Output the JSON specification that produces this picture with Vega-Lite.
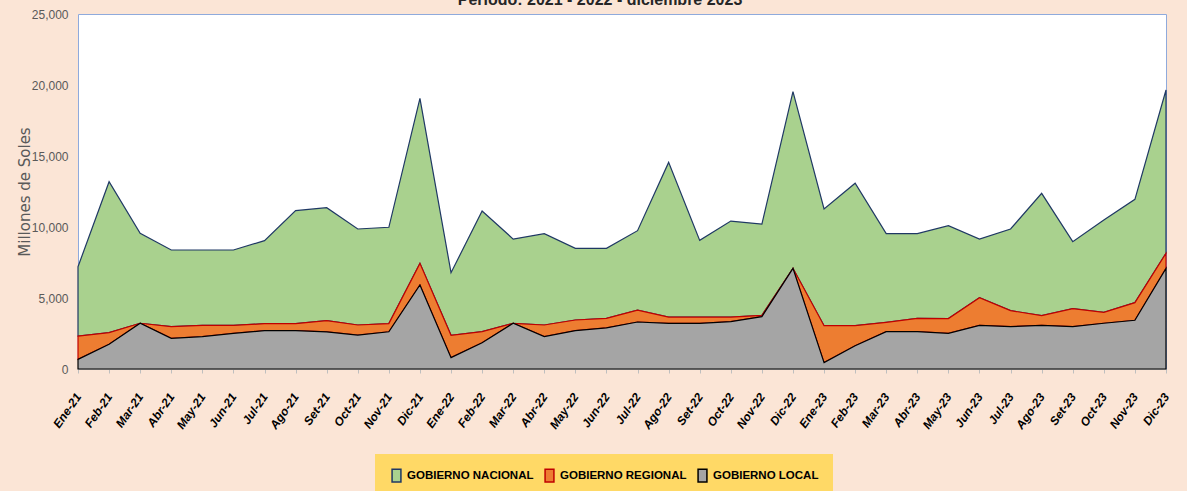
{
  "$schema": "https://vega.github.io/schema/vega-lite/v6.json",
  "width": 1088,
  "height": 355,
  "autosize": {"type": "none"},
  "padding": {"left": 78, "top": 14, "right": 21, "bottom": 122},
  "background": "#FBE5D6",
  "title": {
    "text": "Periodo: 2021 - 2022 - diciembre 2023",
    "anchor": "middle",
    "offset": 0,
    "baseline": "alphabetic",
    "dx": -22,
    "dy": 13,
    "fontSize": 16,
    "font": "Liberation Sans",
    "fontWeight": "bold",
    "color": "#262626"
  },
  "data": {
    "values": [
      {"mes": "Ene-21", "serie": "GOBIERNO NACIONAL", "orden": 3, "valor": 4880},
      {"mes": "Ene-21", "serie": "GOBIERNO REGIONAL", "orden": 2, "valor": 1640},
      {"mes": "Ene-21", "serie": "GOBIERNO LOCAL", "orden": 1, "valor": 680},
      {"mes": "Feb-21", "serie": "GOBIERNO NACIONAL", "orden": 3, "valor": 10630},
      {"mes": "Feb-21", "serie": "GOBIERNO REGIONAL", "orden": 2, "valor": 820},
      {"mes": "Feb-21", "serie": "GOBIERNO LOCAL", "orden": 1, "valor": 1740},
      {"mes": "Mar-21", "serie": "GOBIERNO NACIONAL", "orden": 3, "valor": 6330},
      {"mes": "Mar-21", "serie": "GOBIERNO REGIONAL", "orden": 2, "valor": 0},
      {"mes": "Mar-21", "serie": "GOBIERNO LOCAL", "orden": 1, "valor": 3220},
      {"mes": "Abr-21", "serie": "GOBIERNO NACIONAL", "orden": 3, "valor": 5400},
      {"mes": "Abr-21", "serie": "GOBIERNO REGIONAL", "orden": 2, "valor": 820},
      {"mes": "Abr-21", "serie": "GOBIERNO LOCAL", "orden": 1, "valor": 2160},
      {"mes": "May-21", "serie": "GOBIERNO NACIONAL", "orden": 3, "valor": 5310},
      {"mes": "May-21", "serie": "GOBIERNO REGIONAL", "orden": 2, "valor": 790},
      {"mes": "May-21", "serie": "GOBIERNO LOCAL", "orden": 1, "valor": 2280},
      {"mes": "Jun-21", "serie": "GOBIERNO NACIONAL", "orden": 3, "valor": 5310},
      {"mes": "Jun-21", "serie": "GOBIERNO REGIONAL", "orden": 2, "valor": 560},
      {"mes": "Jun-21", "serie": "GOBIERNO LOCAL", "orden": 1, "valor": 2510},
      {"mes": "Jul-21", "serie": "GOBIERNO NACIONAL", "orden": 3, "valor": 5850},
      {"mes": "Jul-21", "serie": "GOBIERNO REGIONAL", "orden": 2, "valor": 490},
      {"mes": "Jul-21", "serie": "GOBIERNO LOCAL", "orden": 1, "valor": 2700},
      {"mes": "Ago-21", "serie": "GOBIERNO NACIONAL", "orden": 3, "valor": 7960},
      {"mes": "Ago-21", "serie": "GOBIERNO REGIONAL", "orden": 2, "valor": 490},
      {"mes": "Ago-21", "serie": "GOBIERNO LOCAL", "orden": 1, "valor": 2700},
      {"mes": "Set-21", "serie": "GOBIERNO NACIONAL", "orden": 3, "valor": 7960},
      {"mes": "Set-21", "serie": "GOBIERNO REGIONAL", "orden": 2, "valor": 790},
      {"mes": "Set-21", "serie": "GOBIERNO LOCAL", "orden": 1, "valor": 2610},
      {"mes": "Oct-21", "serie": "GOBIERNO NACIONAL", "orden": 3, "valor": 6760},
      {"mes": "Oct-21", "serie": "GOBIERNO REGIONAL", "orden": 2, "valor": 710},
      {"mes": "Oct-21", "serie": "GOBIERNO LOCAL", "orden": 1, "valor": 2390},
      {"mes": "Nov-21", "serie": "GOBIERNO NACIONAL", "orden": 3, "valor": 6780},
      {"mes": "Nov-21", "serie": "GOBIERNO REGIONAL", "orden": 2, "valor": 580},
      {"mes": "Nov-21", "serie": "GOBIERNO LOCAL", "orden": 1, "valor": 2620},
      {"mes": "Dic-21", "serie": "GOBIERNO NACIONAL", "orden": 3, "valor": 11620},
      {"mes": "Dic-21", "serie": "GOBIERNO REGIONAL", "orden": 2, "valor": 1520},
      {"mes": "Dic-21", "serie": "GOBIERNO LOCAL", "orden": 1, "valor": 5920},
      {"mes": "Ene-22", "serie": "GOBIERNO NACIONAL", "orden": 3, "valor": 4410},
      {"mes": "Ene-22", "serie": "GOBIERNO REGIONAL", "orden": 2, "valor": 1570},
      {"mes": "Ene-22", "serie": "GOBIERNO LOCAL", "orden": 1, "valor": 800},
      {"mes": "Feb-22", "serie": "GOBIERNO NACIONAL", "orden": 3, "valor": 8500},
      {"mes": "Feb-22", "serie": "GOBIERNO REGIONAL", "orden": 2, "valor": 780},
      {"mes": "Feb-22", "serie": "GOBIERNO LOCAL", "orden": 1, "valor": 1850},
      {"mes": "Mar-22", "serie": "GOBIERNO NACIONAL", "orden": 3, "valor": 5930},
      {"mes": "Mar-22", "serie": "GOBIERNO REGIONAL", "orden": 2, "valor": 0},
      {"mes": "Mar-22", "serie": "GOBIERNO LOCAL", "orden": 1, "valor": 3220},
      {"mes": "Abr-22", "serie": "GOBIERNO NACIONAL", "orden": 3, "valor": 6430},
      {"mes": "Abr-22", "serie": "GOBIERNO REGIONAL", "orden": 2, "valor": 820},
      {"mes": "Abr-22", "serie": "GOBIERNO LOCAL", "orden": 1, "valor": 2280},
      {"mes": "May-22", "serie": "GOBIERNO NACIONAL", "orden": 3, "valor": 5050},
      {"mes": "May-22", "serie": "GOBIERNO REGIONAL", "orden": 2, "valor": 750},
      {"mes": "May-22", "serie": "GOBIERNO LOCAL", "orden": 1, "valor": 2700},
      {"mes": "Jun-22", "serie": "GOBIERNO NACIONAL", "orden": 3, "valor": 4930},
      {"mes": "Jun-22", "serie": "GOBIERNO REGIONAL", "orden": 2, "valor": 680},
      {"mes": "Jun-22", "serie": "GOBIERNO LOCAL", "orden": 1, "valor": 2890},
      {"mes": "Jul-22", "serie": "GOBIERNO NACIONAL", "orden": 3, "valor": 5590},
      {"mes": "Jul-22", "serie": "GOBIERNO REGIONAL", "orden": 2, "valor": 840},
      {"mes": "Jul-22", "serie": "GOBIERNO LOCAL", "orden": 1, "valor": 3310},
      {"mes": "Ago-22", "serie": "GOBIERNO NACIONAL", "orden": 3, "valor": 10890},
      {"mes": "Ago-22", "serie": "GOBIERNO REGIONAL", "orden": 2, "valor": 440},
      {"mes": "Ago-22", "serie": "GOBIERNO LOCAL", "orden": 1, "valor": 3220},
      {"mes": "Set-22", "serie": "GOBIERNO NACIONAL", "orden": 3, "valor": 5400},
      {"mes": "Set-22", "serie": "GOBIERNO REGIONAL", "orden": 2, "valor": 440},
      {"mes": "Set-22", "serie": "GOBIERNO LOCAL", "orden": 1, "valor": 3220},
      {"mes": "Oct-22", "serie": "GOBIERNO NACIONAL", "orden": 3, "valor": 6760},
      {"mes": "Oct-22", "serie": "GOBIERNO REGIONAL", "orden": 2, "valor": 330},
      {"mes": "Oct-22", "serie": "GOBIERNO LOCAL", "orden": 1, "valor": 3330},
      {"mes": "Nov-22", "serie": "GOBIERNO NACIONAL", "orden": 3, "valor": 6430},
      {"mes": "Nov-22", "serie": "GOBIERNO REGIONAL", "orden": 2, "valor": 90},
      {"mes": "Nov-22", "serie": "GOBIERNO LOCAL", "orden": 1, "valor": 3690},
      {"mes": "Dic-22", "serie": "GOBIERNO NACIONAL", "orden": 3, "valor": 12440},
      {"mes": "Dic-22", "serie": "GOBIERNO REGIONAL", "orden": 2, "valor": 0},
      {"mes": "Dic-22", "serie": "GOBIERNO LOCAL", "orden": 1, "valor": 7090},
      {"mes": "Ene-23", "serie": "GOBIERNO NACIONAL", "orden": 3, "valor": 8220},
      {"mes": "Ene-23", "serie": "GOBIERNO REGIONAL", "orden": 2, "valor": 2600},
      {"mes": "Ene-23", "serie": "GOBIERNO LOCAL", "orden": 1, "valor": 450},
      {"mes": "Feb-23", "serie": "GOBIERNO NACIONAL", "orden": 3, "valor": 10030},
      {"mes": "Feb-23", "serie": "GOBIERNO REGIONAL", "orden": 2, "valor": 1410},
      {"mes": "Feb-23", "serie": "GOBIERNO LOCAL", "orden": 1, "valor": 1640},
      {"mes": "Mar-23", "serie": "GOBIERNO NACIONAL", "orden": 3, "valor": 6240},
      {"mes": "Mar-23", "serie": "GOBIERNO REGIONAL", "orden": 2, "valor": 660},
      {"mes": "Mar-23", "serie": "GOBIERNO LOCAL", "orden": 1, "valor": 2630},
      {"mes": "Abr-23", "serie": "GOBIERNO NACIONAL", "orden": 3, "valor": 5960},
      {"mes": "Abr-23", "serie": "GOBIERNO REGIONAL", "orden": 2, "valor": 940},
      {"mes": "Abr-23", "serie": "GOBIERNO LOCAL", "orden": 1, "valor": 2630},
      {"mes": "May-23", "serie": "GOBIERNO NACIONAL", "orden": 3, "valor": 6540},
      {"mes": "May-23", "serie": "GOBIERNO REGIONAL", "orden": 2, "valor": 1040},
      {"mes": "May-23", "serie": "GOBIERNO LOCAL", "orden": 1, "valor": 2510},
      {"mes": "Jun-23", "serie": "GOBIERNO NACIONAL", "orden": 3, "valor": 4130},
      {"mes": "Jun-23", "serie": "GOBIERNO REGIONAL", "orden": 2, "valor": 1950},
      {"mes": "Jun-23", "serie": "GOBIERNO LOCAL", "orden": 1, "valor": 3070},
      {"mes": "Jul-23", "serie": "GOBIERNO NACIONAL", "orden": 3, "valor": 5750},
      {"mes": "Jul-23", "serie": "GOBIERNO REGIONAL", "orden": 2, "valor": 1130},
      {"mes": "Jul-23", "serie": "GOBIERNO LOCAL", "orden": 1, "valor": 2980},
      {"mes": "Ago-23", "serie": "GOBIERNO NACIONAL", "orden": 3, "valor": 8610},
      {"mes": "Ago-23", "serie": "GOBIERNO REGIONAL", "orden": 2, "valor": 690},
      {"mes": "Ago-23", "serie": "GOBIERNO LOCAL", "orden": 1, "valor": 3070},
      {"mes": "Set-23", "serie": "GOBIERNO NACIONAL", "orden": 3, "valor": 4720},
      {"mes": "Set-23", "serie": "GOBIERNO REGIONAL", "orden": 2, "valor": 1270},
      {"mes": "Set-23", "serie": "GOBIERNO LOCAL", "orden": 1, "valor": 2980},
      {"mes": "Oct-23", "serie": "GOBIERNO NACIONAL", "orden": 3, "valor": 6500},
      {"mes": "Oct-23", "serie": "GOBIERNO REGIONAL", "orden": 2, "valor": 770},
      {"mes": "Oct-23", "serie": "GOBIERNO LOCAL", "orden": 1, "valor": 3220},
      {"mes": "Nov-23", "serie": "GOBIERNO NACIONAL", "orden": 3, "valor": 7280},
      {"mes": "Nov-23", "serie": "GOBIERNO REGIONAL", "orden": 2, "valor": 1240},
      {"mes": "Nov-23", "serie": "GOBIERNO LOCAL", "orden": 1, "valor": 3430},
      {"mes": "Dic-23", "serie": "GOBIERNO NACIONAL", "orden": 3, "valor": 11500},
      {"mes": "Dic-23", "serie": "GOBIERNO REGIONAL", "orden": 2, "valor": 1060},
      {"mes": "Dic-23", "serie": "GOBIERNO LOCAL", "orden": 1, "valor": 7090}
    ]
  },
  "transform": [
    {"stack": "valor", "groupby": ["mes"], "sort": [{"field": "orden", "order": "ascending"}], "as": ["y0", "y1"]}
  ],
  "mark": {"type": "area", "strokeWidth": 1.2, "interpolate": "linear"},
  "encoding": {
    "x": {
      "field": "mes",
      "type": "ordinal",
      "sort": ["Ene-21","Feb-21","Mar-21","Abr-21","May-21","Jun-21","Jul-21","Ago-21","Set-21","Oct-21","Nov-21","Dic-21","Ene-22","Feb-22","Mar-22","Abr-22","May-22","Jun-22","Jul-22","Ago-22","Set-22","Oct-22","Nov-22","Dic-22","Ene-23","Feb-23","Mar-23","Abr-23","May-23","Jun-23","Jul-23","Ago-23","Set-23","Oct-23","Nov-23","Dic-23"],
      "scale": {"type": "point", "padding": 0},
      "axis": {
        "title": null,
        "labelAngle": -55,
        "labelFont": "Liberation Sans",
        "labelFontStyle": "italic",
        "labelFontWeight": "bold",
        "labelFontSize": 12,
        "labelColor": "#000000",
        "labelPadding": 21,
        "tickColor": "#BFBFBF",
        "tickSize": 4,
        "domainColor": "#BFBFBF",
        "grid": false
      }
    },
    "y": {
      "field": "y1",
      "type": "quantitative",
      "title": "Millones de Soles",
      "scale": {"domain": [0, 25000], "nice": false},
      "axis": {
        "values": [0, 5000, 10000, 15000, 20000, 25000],
        "format": ",.0f",
        "domain": false,
        "ticks": false,
        "grid": false,
        "labelFont": "Liberation Sans",
        "labelFontSize": 12,
        "labelColor": "#595959",
        "labelPadding": 10,
        "titleFont": "DejaVu Sans",
        "titleFontSize": 15,
        "titleFontWeight": "normal",
        "titleColor": "#595959",
        "titlePadding": -1
      }
    },
    "y2": {"field": "y0"},
    "fill": {
      "field": "serie",
      "type": "nominal",
      "scale": {"domain": ["GOBIERNO NACIONAL", "GOBIERNO REGIONAL", "GOBIERNO LOCAL"], "range": ["#A9D18E", "#ED7D31", "#A5A5A5"]},
      "legend": {
        "title": null,
        "orient": "none",
        "legendX": 297,
        "legendY": 440,
        "direction": "horizontal",
        "fillColor": "#FFD966",
        "padding": 14,
        "columnPadding": 8,
        "symbolType": "M-0.7,-1H0.7V1H-0.7Z",
        "symbolSize": 160,
        "symbolStrokeWidth": 1.5,
        "labelFont": "Liberation Sans",
        "labelFontSize": 11.5,
        "labelFontWeight": "bold",
        "labelColor": "#000000",
        "labelOffset": 3
      }
    },
    "stroke": {
      "field": "serie",
      "type": "nominal",
      "scale": {"domain": ["GOBIERNO NACIONAL", "GOBIERNO REGIONAL", "GOBIERNO LOCAL"], "range": ["#1F3864", "#C00000", "#000000"]},
      "legend": {
        "title": null,
        "orient": "none",
        "legendX": 297,
        "legendY": 440,
        "direction": "horizontal",
        "fillColor": "#FFD966",
        "padding": 14,
        "columnPadding": 8,
        "symbolType": "M-0.7,-1H0.7V1H-0.7Z",
        "symbolSize": 160,
        "symbolStrokeWidth": 1.5,
        "labelFont": "Liberation Sans",
        "labelFontSize": 11.5,
        "labelFontWeight": "bold",
        "labelColor": "#000000",
        "labelOffset": 3
      }
    }
  },
  "config": {
    "view": {"stroke": "#8FAADC", "fill": "#FFFFFF"}
  }
}
